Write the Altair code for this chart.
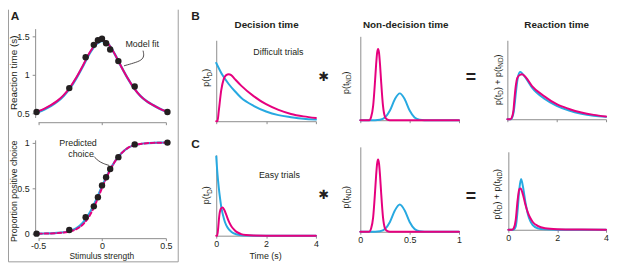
import altair as alt
import pandas as pd

OX, OY = 8, 8          # page margin of the html page
W, H = 609, 258        # drawing area = window minus margin

BLUE = "#27a9e1"
PINK = "#e6007e"
AXIS = "#8c8c8c"
INK = "#231f20"
FONT = "Liberation Sans"

# ---------------- Panel A : behaviour and model fit ----------------
stim_levels = [-0.512, -0.256, -0.128, -0.064, -0.032, 0.0, 0.032, 0.064, 0.128, 0.256, 0.512]
rt_mean = [0.52, 0.83, 1.23, 1.39, 1.45, 1.47, 1.41, 1.33, 1.18, 0.85, 0.52]
p_positive = [0.0, 0.04, 0.18, 0.30, 0.40, 0.53, 0.62, 0.71, 0.84, 0.98, 1.0]

fit_x = [-0.5, -0.45, -0.4, -0.35, -0.3, -0.25, -0.2, -0.15, -0.1, -0.05, 0.0,
         0.05, 0.1, 0.15, 0.2, 0.25, 0.3, 0.35, 0.4, 0.45, 0.5]
rt_fit_blue = [0.52, 0.555, 0.60, 0.655, 0.73, 0.83, 0.96, 1.11, 1.27, 1.39, 1.44,
               1.40, 1.27, 1.11, 0.96, 0.83, 0.73, 0.66, 0.61, 0.565, 0.53]
rt_fit_pink = [0.53, 0.565, 0.61, 0.665, 0.74, 0.84, 0.97, 1.12, 1.28, 1.40, 1.45,
               1.40, 1.27, 1.11, 0.96, 0.83, 0.73, 0.66, 0.61, 0.565, 0.53]
pc_fit_blue = [0.0, 0.002, 0.004, 0.008, 0.015, 0.03, 0.06, 0.12, 0.22, 0.36, 0.52,
               0.67, 0.79, 0.88, 0.94, 0.97, 0.985, 0.993, 0.997, 0.999, 1.0]
pc_fit_pink = [0.0, 0.001, 0.003, 0.006, 0.012, 0.025, 0.05, 0.10, 0.19, 0.33, 0.50,
               0.66, 0.79, 0.88, 0.94, 0.97, 0.985, 0.993, 0.997, 0.999, 1.0]

# annotation pointers (data coordinates of panel A)
fit_ptr_x = [0.322, 0.33, 0.31, 0.25, 0.175]
fit_ptr_y = [1.31, 1.245, 1.19, 1.155, 1.12]
choice_ptr_x = [-0.062, -0.03, 0.008, 0.054]
choice_ptr_y = [0.845, 0.80, 0.77, 0.75]

# ---------------- Panels B / C : distributions ----------------
# decision time, difficult trials
dtB_t_blue = [0, 0.25, 0.5, 0.75, 1, 1.5, 2, 2.5, 3, 3.5, 4]
dtB_blue = [0.72, 0.57, 0.46, 0.37, 0.29, 0.19, 0.12, 0.075, 0.05, 0.03, 0.02]
dtB_t_pink = [0, 0.05, 0.1, 0.2, 0.3, 0.4, 0.5, 0.6, 0.75, 1, 1.5, 2, 2.5, 3, 3.5, 4]
dtB_pink = [0, 0, 0.12, 0.38, 0.52, 0.57, 0.58, 0.57, 0.52, 0.44, 0.31, 0.21, 0.14, 0.09, 0.06, 0.04]

# non-decision time (same in both rows)
nd_t_blue = [0, 0.15, 0.2, 0.25, 0.3, 0.35, 0.4, 0.45, 0.5, 0.55, 0.6, 0.65, 1.0]
nd_blue = [0, 0, 0.005, 0.032, 0.115, 0.25, 0.32, 0.25, 0.115, 0.032, 0.005, 0, 0]
nd_t_pink = [0, 0.09, 0.11, 0.13, 0.15, 0.16, 0.17, 0.18, 0.19, 0.20, 0.21, 0.23, 0.25, 0.27, 0.3, 1.0]
nd_pink = [0, 0, 0.04, 0.17, 0.48, 0.66, 0.80, 0.85, 0.80, 0.66, 0.48, 0.17, 0.04, 0.01, 0, 0]

# reaction time, difficult trials
rtB_t_blue = [0, 0.15, 0.25, 0.3, 0.35, 0.4, 0.45, 0.52, 0.6, 0.75, 1, 1.5, 2, 2.5, 3, 3.5, 4]
rtB_blue = [0, 0, 0.08, 0.2, 0.35, 0.48, 0.56, 0.6, 0.58, 0.52, 0.40, 0.26, 0.17, 0.11, 0.07, 0.045, 0.03]
rtB_t_pink = [0, 0.12, 0.18, 0.25, 0.3, 0.35, 0.4, 0.5, 0.6, 0.75, 1, 1.5, 2, 2.5, 3, 3.5, 4]
rtB_pink = [0, 0, 0.02, 0.12, 0.30, 0.44, 0.52, 0.56, 0.57, 0.53, 0.42, 0.29, 0.19, 0.13, 0.085, 0.055, 0.035]

# decision time, easy trials
dtC_t_blue = [0, 0.05, 0.1, 0.15, 0.2, 0.3, 0.4, 0.5, 0.6, 0.8, 1.0, 1.3, 1.6, 4]
dtC_blue = [0.98, 0.76, 0.60, 0.47, 0.36, 0.22, 0.13, 0.08, 0.05, 0.018, 0.006, 0.001, 0, 0]
dtC_t_pink = [0, 0.04, 0.08, 0.12, 0.18, 0.25, 0.32, 0.4, 0.5, 0.6, 0.7, 0.8, 1.0, 1.2, 1.5, 2, 4]
dtC_pink = [0, 0, 0.1, 0.24, 0.33, 0.35, 0.32, 0.26, 0.18, 0.12, 0.08, 0.05, 0.02, 0.008, 0.002, 0, 0]

# reaction time, easy trials
rtC_t_blue = [0, 0.2, 0.3, 0.38, 0.45, 0.52, 0.6, 0.7, 0.8, 0.9, 1.0, 1.2, 1.5, 2, 4]
rtC_blue = [0, 0, 0.04, 0.25, 0.52, 0.65, 0.55, 0.35, 0.2, 0.11, 0.06, 0.02, 0.005, 0, 0]
rtC_t_pink = [0, 0.15, 0.22, 0.3, 0.38, 0.45, 0.5, 0.6, 0.7, 0.8, 0.9, 1.0, 1.2, 1.5, 2, 3, 4]
rtC_pink = [0, 0, 0.02, 0.12, 0.38, 0.52, 0.53, 0.45, 0.32, 0.22, 0.15, 0.10, 0.05, 0.02, 0.008, 0.002, 0]

# ---------------- panel geometry (page pixels) ----------------
PANELS = {
    "A1": dict(xd=[-0.5, 0.5], xr=[38.5, 168], yd=[0.45, 1.6], yr=[117.2, 27.2],
               xax=122, yax=35.5, xv=[-0.5, 0, 0.5], xl=False, yv=[0.5, 1, 1.5], yl=True),
    "A2": dict(xd=[-0.5, 0.5], xr=[38.5, 168], yd=[-0.02, 1.03], yr=[236.8, 139.9],
               xax=239.5, yax=35.5, xv=[-0.5, 0, 0.5], xl=True, yv=[0, 0.5, 1], yl=True),
    "Bd": dict(xd=[0, 4], xr=[219, 320], yd=[0, 1], yr=[121, 39],
               xax=121, yax=219, xv=[0, 2, 4], xl=False, yv=[], yl=False),
    "Bn": dict(xd=[0, 1], xr=[365, 465], yd=[0, 1], yr=[120, 35],
               xax=120, yax=365, xv=[0, 0.5, 1], xl=False, yv=[], yl=False),
    "Br": dict(xd=[0, 4], xr=[514, 614], yd=[0, 1], yr=[119, 39],
               xax=119, yax=514, xv=[0, 2, 4], xl=False, yv=[], yl=False),
    "Cd": dict(xd=[0, 4], xr=[219, 320], yd=[0, 1], yr=[237, 155],
               xax=237, yax=219, xv=[0, 2, 4], xl=True, yv=[], yl=False),
    "Cn": dict(xd=[0, 1], xr=[365, 465], yd=[0, 1], yr=[233, 147],
               xax=233, yax=365, xv=[0, 0.5, 1], xl=True, yv=[], yl=False),
    "Cr": dict(xd=[0, 4], xr=[515, 614], yd=[0, 1], yr=[231, 152],
               xax=231, yax=515, xv=[0, 2, 4], xl=True, yv=[], yl=False),
}

LBL = "datum.value < 0 ? '-' + format(-datum.value, '~g') : format(datum.value, '~g')"


def x_axis(p):
    return alt.Axis(orient="bottom", offset=(p["xax"] - OY) - H, values=p["xv"],
                    labels=p["xl"], labelExpr=LBL, labelFont=FONT, labelFontSize=9,
                    labelColor=INK, labelPadding=1, labelFlush=False, tickSize=2.5,
                    tickColor=AXIS, domainColor=AXIS, grid=False)


def y_axis(p):
    kw = dict(orient="left", offset=-(p["yax"] - OX), labels=p["yl"], labelExpr=LBL,
              labelFont=FONT, labelFontSize=9, labelColor=INK, labelPadding=3,
              labelFlush=False, tickColor=AXIS, domainColor=AXIS, grid=False)
    if p["yv"]:
        kw.update(values=p["yv"], tickSize=3)
    else:
        kw.update(ticks=False)
    return alt.Axis(**kw)


def enc(p, axes):
    xs = alt.Scale(domain=p["xd"], range=[p["xr"][0] - OX, p["xr"][1] - OX], nice=False, zero=False)
    ys = alt.Scale(domain=p["yd"], range=[p["yr"][0] - OY, p["yr"][1] - OY], nice=False, zero=False)
    return dict(
        x=alt.X("x:Q", scale=xs, axis=x_axis(p) if axes else None, title=None),
        y=alt.Y("y:Q", scale=ys, axis=y_axis(p) if axes else None, title=None),
    )


def line(pk, xs, ys, color, width=2.0, axes=False, dash=None, interp="monotone"):
    p = PANELS[pk]
    df = pd.DataFrame({"x": xs, "y": ys, "i": list(range(len(xs)))})
    kw = dict(color=color, strokeWidth=width, interpolate=interp, strokeCap="round")
    if dash:
        kw["strokeDash"] = dash
    return alt.Chart(df).mark_line(**kw).encode(order="i:Q", **enc(p, axes))


def dots(pk, xs, ys):
    p = PANELS[pk]
    df = pd.DataFrame({"x": xs, "y": ys})
    return alt.Chart(df).mark_circle(size=42, color=INK, opacity=1).encode(**enc(p, False))


def text(s, x, y, size=9, bold=False, angle=0, align="center", baseline="middle", font=FONT):
    df = pd.DataFrame({"label": [s]})
    kw = dict(font=font, fontSize=size, fontWeight="bold" if bold else "normal",
              align=align, baseline=baseline, color=INK)
    if angle:
        kw["angle"] = angle
    return alt.Chart(df).mark_text(**kw).encode(
        x=alt.value(x - OX), y=alt.value(y - OY), text="label:N")


CW = {"p": 556, "(": 333, ")": 333, "t": 278, "D": 722, "N": 722, " ": 278, "+": 584}


def sub_label(parts, xc, yc, size=9):
    sub = size * 0.72
    lens = [sum(CW[c] for c in s) / 1000 * (sub if is_sub else size) for s, is_sub in parts]
    pos = yc + sum(lens) / 2
    base_x = xc + size * 0.35
    out = []
    for (s, is_sub), L in zip(parts, lens):
        out.append(text(s, base_x + (size * 0.28 if is_sub else 0), pos,
                        size=sub if is_sub else size, angle=270, align="left",
                        baseline="alphabetic"))
        pos -= L
    return out


def rule(x1, y1, x2, y2, color="#9b9b9b"):
    df = pd.DataFrame({"k": [0]})
    return alt.Chart(df).mark_rule(color=color, strokeWidth=1).encode(
        x=alt.value(x1 - OX), y=alt.value(y1 - OY), x2=alt.value(x2 - OX), y2=alt.value(y2 - OY))


layers = []
# panel A box
layers += [rule(8.5, 8, 8.5, 263.5), rule(180.5, 8, 180.5, 263.5), rule(8.5, 263.5, 180.5, 263.5)]

# A top
layers += [
    line("A1", fit_x, rt_fit_blue, BLUE, 2.4, axes=True),
    line("A1", fit_x, rt_fit_pink, PINK, 2.0),
    line("A1", fit_ptr_x, fit_ptr_y, INK, 0.8, interp="basis"),
    dots("A1", stim_levels, rt_mean),
]
# A bottom
layers += [
    line("A2", fit_x, pc_fit_blue, BLUE, 2.2, axes=True),
    line("A2", fit_x, pc_fit_pink, PINK, 2.0, dash=[4, 2.5]),
    line("A2", choice_ptr_x, choice_ptr_y, INK, 0.8, interp="basis"),
    dots("A2", stim_levels, p_positive),
]
# B row
layers += [
    line("Bd", dtB_t_blue, dtB_blue, BLUE, axes=True),
    line("Bd", dtB_t_pink, dtB_pink, PINK),
    line("Bn", nd_t_blue, nd_blue, BLUE, axes=True),
    line("Bn", nd_t_pink, nd_pink, PINK),
    line("Br", rtB_t_blue, rtB_blue, BLUE, axes=True),
    line("Br", rtB_t_pink, rtB_pink, PINK),
]
# C row
layers += [
    line("Cd", dtC_t_blue, dtC_blue, BLUE, axes=True),
    line("Cd", dtC_t_pink, dtC_pink, PINK),
    line("Cn", nd_t_blue, nd_blue, BLUE, axes=True),
    line("Cn", nd_t_pink, nd_pink, PINK),
    line("Cr", rtC_t_blue, rtC_blue, BLUE, axes=True),
    line("Cr", rtC_t_pink, rtC_pink, PINK),
]

# texts
layers += [
    text("A", 15, 14, size=12, bold=True),
    text("B", 198, 14, size=12, bold=True),
    text("C", 198, 144, size=12, bold=True),
    text("Reaction time (s)", 14, 72, size=10, angle=270),
    text("Proportion positive choice", 14, 192, size=9, angle=270),
    text("Model fit", 144, 43, size=9),
    text("Predicted", 79, 143, size=9),
    text("choice", 82, 154, size=9),
    text("Stimulus strength", 103, 258, size=8.5),
    text("Decision time", 270, 24, size=10, bold=True),
    text("Non-decision time", 411, 24, size=10, bold=True),
    text("Reaction time", 564, 24, size=10, bold=True),
    text("Difficult trials", 282, 51, size=9),
    text("Easy trials", 283, 176, size=9),
    text("Time (s)", 269, 258, size=9),
    text("\u2731", 328, 76, size=13, font="DejaVu Sans"),
    text("\u2731", 328, 196, size=13, font="DejaVu Sans"),
    text("=", 477, 77, size=18, bold=True),
    text("=", 477, 198, size=18, bold=True),
]
P_D = [("p(t", False), ("D", True), (")", False)]
P_ND = [("p(t", False), ("ND", True), (")", False)]
P_SUM = [("p(t", False), ("D", True), (") + p(t", False), ("ND", True), (")", False)]
layers += sub_label(P_D, 209, 77)
layers += sub_label(P_D, 209, 196)
layers += sub_label(P_ND, 350, 82)
layers += sub_label(P_ND, 350, 198)
layers += sub_label(P_SUM, 504, 79)
layers += sub_label(P_SUM, 503, 195)

chart = (
    alt.layer(*layers)
    .resolve_scale(x="independent", y="independent")
    .resolve_axis(x="independent", y="independent")
    .properties(width=W, height=H, autosize=alt.AutoSizeParams(type="none"), padding=0)
    .configure_view(strokeWidth=0)
)

chart.save("out.html", embed_options={"renderer": "svg", "actions": False})
